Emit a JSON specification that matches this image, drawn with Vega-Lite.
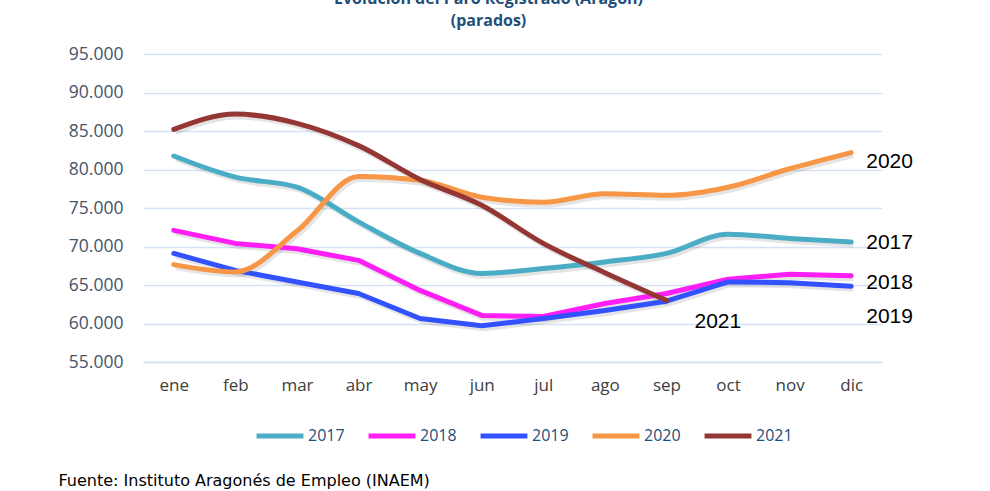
{
  "$schema": "https://vega.github.io/schema/vega-lite/v6.json",
  "width": 739,
  "height": 308,
  "autosize": {"type": "none"},
  "padding": {"left": 143, "top": 54, "right": 108, "bottom": 129},
  "background": "white",
  "title": {
    "text": ["Evolución del Paro Registrado (Aragón)", "(parados)"],
    "anchor": "middle",
    "dx": -24,
    "offset": 16,
    "font": "Open Sans",
    "fontSize": 16,
    "fontWeight": "bold",
    "color": "#1F4E79",
    "lineHeight": 22
  },
  "datasets": {
    "paro": [
      {"mes": "ene", "anio": "2017", "valor": 81750},
      {"mes": "feb", "anio": "2017", "valor": 79000},
      {"mes": "mar", "anio": "2017", "valor": 77700},
      {"mes": "abr", "anio": "2017", "valor": 73200},
      {"mes": "may", "anio": "2017", "valor": 69100},
      {"mes": "jun", "anio": "2017", "valor": 66500},
      {"mes": "jul", "anio": "2017", "valor": 67150},
      {"mes": "ago", "anio": "2017", "valor": 68000},
      {"mes": "sep", "anio": "2017", "valor": 69100},
      {"mes": "oct", "anio": "2017", "valor": 71600},
      {"mes": "nov", "anio": "2017", "valor": 71050},
      {"mes": "dic", "anio": "2017", "valor": 70600},
      {"mes": "ene", "anio": "2018", "valor": 72100},
      {"mes": "feb", "anio": "2018", "valor": 70400},
      {"mes": "mar", "anio": "2018", "valor": 69700},
      {"mes": "abr", "anio": "2018", "valor": 68200},
      {"mes": "may", "anio": "2018", "valor": 64300},
      {"mes": "jun", "anio": "2018", "valor": 61050},
      {"mes": "jul", "anio": "2018", "valor": 60900},
      {"mes": "ago", "anio": "2018", "valor": 62600},
      {"mes": "sep", "anio": "2018", "valor": 63900},
      {"mes": "oct", "anio": "2018", "valor": 65750},
      {"mes": "nov", "anio": "2018", "valor": 66400},
      {"mes": "dic", "anio": "2018", "valor": 66200},
      {"mes": "ene", "anio": "2019", "valor": 69100},
      {"mes": "feb", "anio": "2019", "valor": 66900},
      {"mes": "mar", "anio": "2019", "valor": 65400},
      {"mes": "abr", "anio": "2019", "valor": 63900},
      {"mes": "may", "anio": "2019", "valor": 60650},
      {"mes": "jun", "anio": "2019", "valor": 59700},
      {"mes": "jul", "anio": "2019", "valor": 60650},
      {"mes": "ago", "anio": "2019", "valor": 61700},
      {"mes": "sep", "anio": "2019", "valor": 62900},
      {"mes": "oct", "anio": "2019", "valor": 65400},
      {"mes": "nov", "anio": "2019", "valor": 65300},
      {"mes": "dic", "anio": "2019", "valor": 64850},
      {"mes": "ene", "anio": "2020", "valor": 67650},
      {"mes": "feb", "anio": "2020", "valor": 66700},
      {"mes": "mar", "anio": "2020", "valor": 72000},
      {"mes": "abr", "anio": "2020", "valor": 79100},
      {"mes": "may", "anio": "2020", "valor": 78600},
      {"mes": "jun", "anio": "2020", "valor": 76400},
      {"mes": "jul", "anio": "2020", "valor": 75750},
      {"mes": "ago", "anio": "2020", "valor": 76850},
      {"mes": "sep", "anio": "2020", "valor": 76650},
      {"mes": "oct", "anio": "2020", "valor": 77700},
      {"mes": "nov", "anio": "2020", "valor": 80100},
      {"mes": "dic", "anio": "2020", "valor": 82200},
      {"mes": "ene", "anio": "2021", "valor": 85200},
      {"mes": "feb", "anio": "2021", "valor": 87200},
      {"mes": "mar", "anio": "2021", "valor": 86000},
      {"mes": "abr", "anio": "2021", "valor": 83100},
      {"mes": "may", "anio": "2021", "valor": 78700},
      {"mes": "jun", "anio": "2021", "valor": 75350},
      {"mes": "jul", "anio": "2021", "valor": 70400},
      {"mes": "ago", "anio": "2021", "valor": 66600},
      {"mes": "sep", "anio": "2021", "valor": 63000}
    ],
    "etiquetas": [
      {"mes": "dic", "valor": 80950, "texto": "2020"},
      {"mes": "dic", "valor": 70400, "texto": "2017"},
      {"mes": "dic", "valor": 65200, "texto": "2018"},
      {"mes": "dic", "valor": 60800, "texto": "2019"}
    ],
    "etiqueta2021": [
      {"mes": "sep", "valor": 60150, "texto": "2021"}
    ]
  },
  "encoding": {
    "x": {
      "field": "mes",
      "type": "ordinal",
      "sort": ["ene", "feb", "mar", "abr", "may", "jun", "jul", "ago", "sep", "oct", "nov", "dic"],
      "scale": {"type": "point", "padding": 0.5},
      "axis": {
        "title": "Fuente: Instituto Aragonés de Empleo (INAEM)",
        "titleAnchor": "start",
        "titleAlign": "left",
        "titleBaseline": "middle",
        "titleX": -85,
        "titleY": 118,
        "titleFont": "DejaVu Sans",
        "titleFontSize": 16,
        "titleFontWeight": "normal",
        "titleColor": "#000000",
        "labelAngle": 0,
        "labelFont": "Open Sans",
        "labelFontSize": 17,
        "labelColor": "#404040",
        "labelPadding": 15,
        "ticks": false,
        "domain": true,
        "domainColor": "#D6E1F3",
        "domainWidth": 1.5,
        "grid": false
      }
    },
    "y": {
      "field": "valor",
      "type": "quantitative",
      "scale": {"domain": [55000, 95000], "nice": false, "zero": false},
      "axis": {
        "title": null,
        "values": [55000, 60000, 65000, 70000, 75000, 80000, 85000, 90000, 95000],
        "labelExpr": "replace(format(datum.value, ','), ',', '.')",
        "labelFont": "Open Sans",
        "labelFontSize": 17.5,
        "labelColor": "#44546A",
        "labelPadding": 20,
        "ticks": false,
        "domain": false,
        "grid": true,
        "gridColor": "#D6E1F3",
        "gridWidth": 1.5
      }
    },
    "color": {
      "field": "anio",
      "type": "nominal",
      "scale": {"domain": ["2017", "2018", "2019", "2020", "2021"], "range": ["#4BACC6", "#FF1EF5", "#3352FF", "#F79646", "#943634"]},
      "legend": {
        "title": null,
        "orient": "none",
        "direction": "horizontal",
        "legendX": 111,
        "legendY": 356,
        "symbolType": "stroke",
        "symbolSize": 2200,
        "symbolStrokeWidth": 5,
        "labelFont": "Open Sans",
        "labelFontSize": 16,
        "labelColor": "#1F4E79",
        "labelOffset": 2,
        "columnPadding": 13,
        "values": ["2017", "2018", "2019", "2020", "2021"]
      }
    }
  },
  "layer": [
    {
      "data": {"name": "paro"},
      "transform": [{"filter": "datum.anio == '2017' || datum.anio == '2020' || datum.anio == '2021'"}],
      "mark": {"type": "line", "interpolate": "monotone", "strokeWidth": 5, "color": "#000000", "opacity": 0.1, "xOffset": 2, "yOffset": 3},
      "encoding": {"color": {"value": "#000000"}, "detail": {"field": "anio"}}
    },
    {
      "data": {"name": "paro"},
      "transform": [{"filter": "datum.anio == '2018' || datum.anio == '2019'"}],
      "mark": {"type": "line", "interpolate": "linear", "strokeWidth": 5, "color": "#000000", "opacity": 0.1, "xOffset": 2, "yOffset": 3},
      "encoding": {"color": {"value": "#000000"}, "detail": {"field": "anio"}}
    },
    {
      "data": {"name": "paro"},
      "transform": [{"filter": "datum.anio == '2018' || datum.anio == '2019'"}],
      "mark": {"type": "line", "interpolate": "linear", "strokeWidth": 5, "strokeCap": "round", "strokeJoin": "round"}
    },
    {
      "data": {"name": "paro"},
      "transform": [{"filter": "datum.anio == '2017' || datum.anio == '2020' || datum.anio == '2021'"}],
      "mark": {"type": "line", "interpolate": "monotone", "strokeWidth": 5, "strokeCap": "round", "strokeJoin": "round"}
    },
    {
      "data": {"name": "etiquetas"},
      "mark": {"type": "text", "align": "left", "baseline": "middle", "dx": 15, "font": "Liberation Sans", "fontSize": 21, "color": "#000000"},
      "encoding": {"text": {"field": "texto"}, "color": {"value": "#000000"}}
    },
    {
      "data": {"name": "etiqueta2021"},
      "mark": {"type": "text", "align": "left", "baseline": "middle", "dx": 28, "font": "Liberation Sans", "fontSize": 21, "color": "#000000"},
      "encoding": {"text": {"field": "texto"}, "color": {"value": "#000000"}}
    }
  ],
  "config": {"view": {"stroke": null}}
}
